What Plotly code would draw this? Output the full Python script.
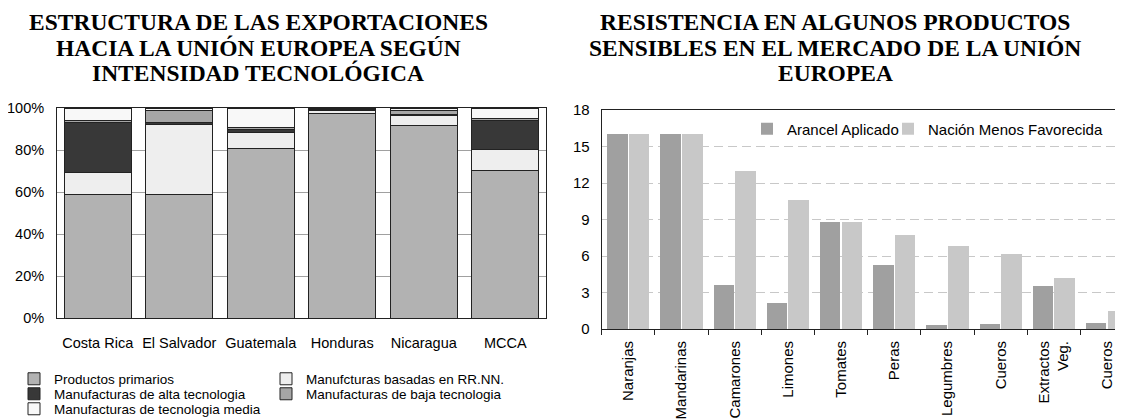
import plotly.graph_objects as go

# ---------------- data ----------------
paises = ["Costa Rica", "El Salvador", "Guatemala", "Honduras", "Nicaragua", "MCCA"]
primarios = [58.6, 58.6, 80.6, 97.3, 91.6, 70.1]
rrnn = [10.8, 33.7, 7.9, 1.5, 4.7, 10.3]
alta = [23.5, 0.8, 1.5, 0.6, 0.8, 13.6]
baja = [1.1, 5.6, 0.6, 0.3, 1.6, 1.2]
media = [6.0, 1.3, 9.4, 0.3, 1.3, 4.8]
pct_vals = [0, 20, 40, 60, 80, 100]
pct_text = ["0%", "20%", "40%", "60%", "80%", "100%"]

productos = ["Naranjas", "Mandarinas", "Camarones", "Limones", "Tomates", "Peras",
             "Legumbres", "Cueros", "Extractos<br>Veg.", "Cueros"]
arancel = [16.0, 16.0, 3.6, 2.1, 8.8, 5.3, 0.3, 0.4, 3.5, 0.5]
nmf = [16.0, 16.0, 13.0, 10.6, 8.8, 7.7, 6.8, 6.2, 4.2, 1.5]

titulo_izq = ["ESTRUCTURA DE LAS EXPORTACIONES", "HACIA LA UNIÓN EUROPEA SEGÚN", "INTENSIDAD TECNOLÓGICA"]
titulo_der = ["RESISTENCIA EN ALGUNOS PRODUCTOS", "SENSIBLES EN EL MERCADO DE LA UNIÓN", "EUROPEA"]

# ---------------- layout helpers ----------------
# The page body has a default 8px margin, so the figure is drawn 8px
# right/down of the window corner. Positions below are in window pixels.
WIN_W, WIN_H = 1123, 420
OFF = 8
W, H = WIN_W - OFF, WIN_H - OFF
def fx(p):
    return (p - OFF) / W
def fy(p):
    return 1 - (p - OFF) / H

SANS = "Liberation Sans, Arial, sans-serif"
SERIF = "Liberation Serif, Times New Roman, serif"

fig = go.Figure()

series_izq = [
    ("Productos primarios", primarios, "#b2b2b2", "legend", 207),
    ("Manufcturas basadas en RR.NN.", rrnn, "#eeeeee", "legend", 240),
    ("Manufacturas de alta tecnologia", alta, "#383838", "legend2", 207),
    ("Manufacturas de baja tecnologia", baja, "#a6a6a6", "legend2", 240),
    ("Manufacturas de tecnologia media", media, "#f8f8f8", "legend3", 240),
]
for nombre, vals, color, leg, lw in series_izq:
    fig.add_trace(go.Bar(
        x=paises, y=vals, name=nombre, legend=leg, legendwidth=lw,
        marker=dict(color=color, line=dict(color="#222222", width=1)),
        width=0.822, offsetgroup="izq", xaxis="x", yaxis="y",
    ))

idx = list(range(len(productos)))
fig.add_trace(go.Bar(
    x=idx, y=arancel, name="Arancel Aplicado", legend="legend4", legendwidth=96,
    marker=dict(color="#a0a0a0", line=dict(width=0)),
    offsetgroup="a", xaxis="x2", yaxis="y2",
))
fig.add_trace(go.Bar(
    x=idx, y=nmf, name="Nación Menos Favorecida", legend="legend4", legendwidth=200,
    marker=dict(color="#c8c8c8", line=dict(width=0)),
    offsetgroup="b", xaxis="x2", yaxis="y2",
))

annotations = []
for i, t in enumerate(titulo_izq):
    annotations.append(dict(text=t, x=fx(258), y=fy(22 + 25.5 * i), xref="paper", yref="paper",
                            xanchor="center", yanchor="middle", showarrow=False,
                            font=dict(family=SERIF, size=23.5, color="black", weight="bold")))
for i, t in enumerate(titulo_der):
    annotations.append(dict(text=t, x=fx(835), y=fy(22 + 25.5 * i), xref="paper", yref="paper",
                            xanchor="center", yanchor="middle", showarrow=False,
                            font=dict(family=SERIF, size=23.5, color="black", weight="bold")))

leg_common = dict(orientation="h", xanchor="left", yanchor="middle", traceorder="normal",
                  bgcolor="rgba(0,0,0,0)")

fig.update_layout(
    width=W, height=H,
    margin=dict(l=0, r=0, t=0, b=0, autoexpand=False),
    paper_bgcolor="white", plot_bgcolor="white",
    barmode="stack", bargap=0.186, bargroupgap=0.054,
    font=dict(family=SANS, color="black"),
    annotations=annotations,
    legend=dict(x=fx(14), y=fy(379), font=dict(family=SANS, size=13.5), **leg_common),
    legend2=dict(x=fx(14), y=fy(394), font=dict(family=SANS, size=13.5), **leg_common),
    legend3=dict(x=fx(14), y=fy(409), font=dict(family=SANS, size=13.5), **leg_common),
    legend4=dict(x=fx(747), y=fy(129), font=dict(family=SANS, size=15), **leg_common),
    xaxis=dict(domain=[fx(57), fx(546)], anchor="y", showline=True, linecolor="#222222",
               linewidth=1, mirror=True, ticks="", tickfont=dict(size=14.5),
               ticklabelstandoff=12, showgrid=False),
    yaxis=dict(domain=[fy(318), fy(108)], anchor="x", range=[0, 100],
               tickvals=pct_vals, ticktext=pct_text,
               showgrid=True, gridcolor="#a0a0a0", gridwidth=1, zeroline=False,
               showline=True, linecolor="#222222", linewidth=1, mirror=True,
               ticks="", tickfont=dict(size=14.5), ticklabelstandoff=9),
    xaxis2=dict(domain=[fx(601.7), 1.0], anchor="y2", range=[-0.5, 9.3],
                tickvals=idx, ticktext=productos, tickangle=-90, ticks="",
                minor=dict(tickvals=[i - 0.5 for i in range(len(productos) + 1)],
                           ticks="outside", ticklen=5, tickcolor="#222222", showgrid=False),
                showline=True, linecolor="#222222", linewidth=1, mirror=True,
                showgrid=False, zeroline=False, tickfont=dict(size=15), ticklabelstandoff=5),
    yaxis2=dict(domain=[fy(329), fy(110)], anchor="x2", range=[0, 18], dtick=3,
                showgrid=True, gridcolor="#c8c8c8", griddash="9px,5px", gridwidth=1,
                zeroline=False, showline=True, linecolor="#222222", linewidth=1,
                ticks="", tickfont=dict(size=15), ticklabelstandoff=8),
    showlegend=True,
)

fig.write_html("out.html")
